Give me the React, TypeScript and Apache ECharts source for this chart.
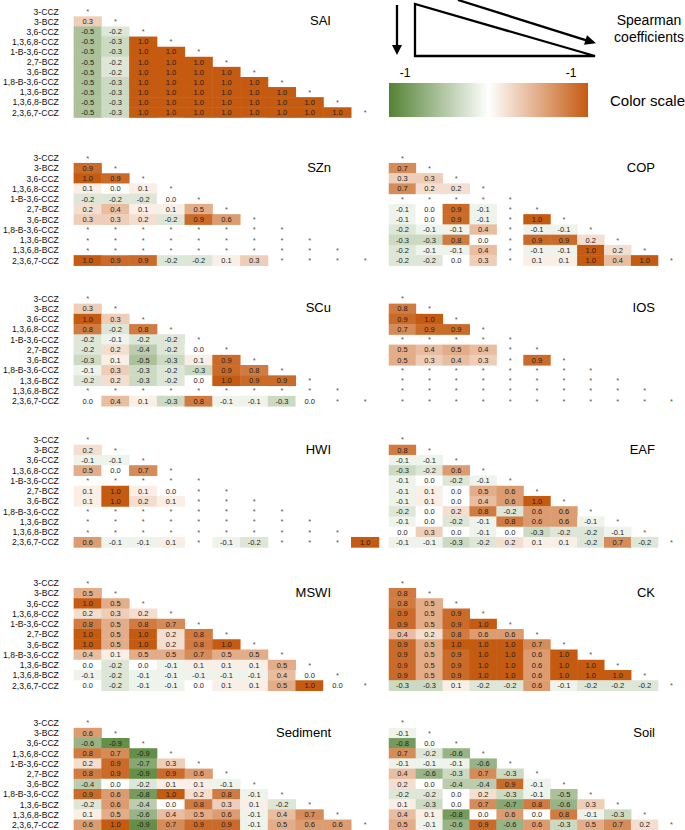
import React, { useEffect, useRef } from 'react';
import * as echarts from 'echarts';

const _ = null;

const categories = ['3-CCZ', '3-BCZ', '3,6-CCZ', '1,3,6,8-CCZ', '1-B-3,6-CCZ', '2,7-BCZ', '3,6-BCZ', '1,8-B-3,6-CCZ', '1,3,6-BCZ', '1,3,6,8-BCZ', '2,3,6,7-CCZ'];

const SAI = [
  [_],
  [0.3, _],
  [-0.5, -0.2, _],
  [-0.5, -0.3, 1.0, _],
  [-0.5, -0.3, 1.0, 1.0, _],
  [-0.5, -0.2, 1.0, 1.0, 1.0, _],
  [-0.5, -0.2, 1.0, 1.0, 1.0, 1.0, _],
  [-0.5, -0.3, 1.0, 1.0, 1.0, 1.0, 1.0, _],
  [-0.5, -0.3, 1.0, 1.0, 1.0, 1.0, 1.0, 1.0, _],
  [-0.5, -0.3, 1.0, 1.0, 1.0, 1.0, 1.0, 1.0, 1.0, _],
  [-0.5, -0.3, 1.0, 1.0, 1.0, 1.0, 1.0, 1.0, 1.0, 1.0, _],
];

const SZn = [
  [_],
  [0.9, _],
  [1.0, 0.9, _],
  [0.1, 0.0, 0.1, _],
  [-0.2, -0.2, -0.2, 0.0, _],
  [0.2, 0.4, 0.1, 0.1, 0.5, _],
  [0.3, 0.3, 0.2, -0.2, 0.9, 0.6, _],
  [_, _, _, _, _, _, _, _],
  [_, _, _, _, _, _, _, _, _],
  [_, _, _, _, _, _, _, _, _, _],
  [1.0, 0.9, 0.9, -0.2, -0.2, 0.1, 0.3, _, _, _, _],
];

const COP = [
  [_],
  [0.7, _],
  [0.3, 0.3, _],
  [0.7, 0.2, 0.2, _],
  [_, _, _, _, _],
  [-0.1, 0.0, 0.9, -0.1, _, _],
  [-0.1, 0.0, 0.9, -0.1, _, 1.0, _],
  [-0.2, -0.1, -0.1, 0.4, _, -0.1, -0.1, _],
  [-0.3, -0.3, 0.8, 0.0, _, 0.9, 0.9, 0.2, _],
  [-0.2, -0.1, -0.1, 0.4, _, -0.1, -0.1, 1.0, 0.2, _],
  [-0.2, -0.2, 0.0, 0.3, _, 0.1, 0.1, 1.0, 0.4, 1.0, _],
];

const SCu = [
  [_],
  [0.3, _],
  [1.0, 0.3, _],
  [0.8, -0.2, 0.8, _],
  [-0.2, -0.1, -0.2, -0.2, _],
  [-0.2, 0.2, -0.4, -0.2, 0.0, _],
  [-0.3, 0.1, -0.5, -0.3, 0.1, 0.9, _],
  [-0.1, 0.3, -0.3, -0.2, -0.3, 0.9, 0.8, _],
  [-0.2, 0.2, -0.3, -0.2, 0.0, 1.0, 0.9, 0.9, _],
  [_, _, _, _, _, _, _, _, _, _],
  [0.0, 0.4, 0.1, -0.3, 0.8, -0.1, -0.1, -0.3, 0.0, _, _],
];

const IOS = [
  [_],
  [0.8, _],
  [0.9, 1.0, _],
  [0.7, 0.9, 0.9, _],
  [_, _, _, _, _],
  [0.5, 0.4, 0.5, 0.4, _, _],
  [0.5, 0.3, 0.4, 0.3, _, 0.9, _],
  [_, _, _, _, _, _, _, _],
  [_, _, _, _, _, _, _, _, _],
  [_, _, _, _, _, _, _, _, _, _],
  [_, _, _, _, _, _, _, _, _, _, _],
];

const HWI = [
  [_],
  [0.2, _],
  [-0.1, -0.1, _],
  [0.5, 0.0, 0.7, _],
  [_, _, _, _, _],
  [0.1, 1.0, 0.1, 0.0, _, _],
  [0.1, 1.0, 0.2, 0.1, _, _, _],
  [_, _, _, _, _, _, _, _],
  [_, _, _, _, _, _, _, _, _],
  [_, _, _, _, _, _, _, _, _, _],
  [0.6, -0.1, -0.1, 0.1, _, -0.1, -0.2, _, _, _, 1.0],
];

const EAF = [
  [_],
  [0.8, _],
  [-0.1, -0.1, _],
  [-0.3, -0.2, 0.6, _],
  [-0.1, 0.0, -0.2, -0.1, _],
  [-0.1, 0.1, 0.0, 0.5, 0.6, _],
  [-0.1, 0.1, 0.0, 0.4, 0.6, 1.0, _],
  [-0.2, 0.0, 0.2, 0.8, -0.2, 0.6, 0.6, _],
  [-0.1, 0.0, -0.2, -0.1, 0.8, 0.6, 0.6, -0.1, _],
  [0.0, 0.3, 0.0, -0.1, 0.0, -0.3, -0.2, -0.2, -0.1, _],
  [-0.1, -0.1, -0.3, -0.2, 0.2, 0.1, 0.1, -0.2, 0.7, -0.2, _],
];

const MSWI = [
  [_],
  [0.5, _],
  [1.0, 0.5, _],
  [0.2, 0.3, 0.2, _],
  [0.8, 0.5, 0.8, 0.7, _],
  [1.0, 0.5, 1.0, 0.2, 0.8, _],
  [1.0, 0.5, 1.0, 0.2, 0.8, 1.0, _],
  [0.4, 0.1, 0.5, 0.5, 0.7, 0.5, 0.5, _],
  [0.0, -0.2, 0.0, -0.1, 0.1, 0.1, 0.1, 0.5, _],
  [-0.1, -0.2, -0.1, -0.1, -0.1, -0.1, -0.1, 0.4, 0.0, _],
  [0.0, -0.2, -0.1, -0.1, 0.0, 0.1, 0.1, 0.5, 1.0, 0.0, _],
];

const CK = [
  [_],
  [0.8, _],
  [0.8, 0.5, _],
  [0.9, 0.5, 0.9, _],
  [0.9, 0.5, 0.9, 1.0, _],
  [0.4, 0.2, 0.8, 0.6, 0.6, _],
  [0.9, 0.5, 1.0, 1.0, 1.0, 0.7, _],
  [0.9, 0.5, 0.9, 1.0, 1.0, 0.6, 1.0, _],
  [0.9, 0.5, 0.9, 1.0, 1.0, 0.6, 1.0, 1.0, _],
  [0.9, 0.5, 0.9, 1.0, 1.0, 0.6, 1.0, 1.0, 1.0, _],
  [-0.3, -0.3, 0.1, -0.2, -0.2, 0.6, -0.1, -0.2, -0.2, -0.2, _],
];

const Sediment = [
  [_],
  [0.6, _],
  [-0.6, -0.9, _],
  [0.8, 0.7, -0.9, _],
  [0.2, 0.9, -0.7, 0.3, _],
  [0.8, 0.9, -0.9, 0.9, 0.6, _],
  [-0.4, 0.0, -0.2, 0.1, 0.1, -0.1, _],
  [0.9, 0.6, -0.8, 1.0, 0.2, 0.8, -0.1, _],
  [-0.2, 0.6, -0.4, 0.0, 0.8, 0.3, 0.1, -0.2, _],
  [0.1, 0.5, -0.6, 0.4, 0.5, 0.6, -0.1, 0.4, 0.7, _],
  [0.6, 1.0, -0.9, 0.7, 0.9, 0.9, -0.1, 0.5, 0.6, 0.6, _],
];

const Soil = [
  [_],
  [-0.1, _],
  [-0.8, 0.0, _],
  [0.7, -0.2, -0.6, _],
  [-0.1, -0.1, -0.1, -0.6, _],
  [0.4, -0.6, -0.3, 0.7, -0.3, _],
  [0.2, 0.0, -0.4, -0.4, 0.9, -0.1, _],
  [-0.2, -0.2, 0.0, 0.2, -0.3, -0.1, -0.5, _],
  [0.1, -0.3, 0.0, 0.7, -0.7, 0.8, -0.6, 0.3, _],
  [0.4, 0.1, -0.8, 0.0, 0.6, 0.0, 0.8, -0.1, -0.3, _],
  [0.5, -0.1, -0.6, 0.9, -0.6, 0.6, -0.3, 0.5, 0.7, 0.2, _],
];

const colorScale = ['#548235', '#ffffff', '#C55A11'];
const legendTicks = ['-1', '-1'];
const legendCaption = ['Spearman', 'coefficients'];
const legendTitle = 'Color scale';

const FONT = '"Liberation Sans", Arial, Helvetica, sans-serif';

// layout: [name, data, side(0 left / 1 right), block]
const panels: [string, (number | null)[][], number, number][] = [
  ['SAI', SAI, 0, 0],
  ['SZn', SZn, 0, 1],
  ['COP', COP, 1, 1],
  ['SCu', SCu, 0, 2],
  ['IOS', IOS, 1, 2],
  ['HWI', HWI, 0, 3],
  ['EAF', EAF, 1, 3],
  ['MSWI', MSWI, 0, 4],
  ['CK', CK, 1, 4],
  ['Sediment', Sediment, 0, 5],
  ['Soil', Soil, 1, 5],
];

const blockTop = [6.5, 152.9, 293.6, 434.7, 578, 717.9];
const blockStep = [10.1, 10.25, 10.25, 10.25, 10.25, 10.3];
const sideLeft = [71, 389];
const cellW = 28;
const titleRight = [331, 655];

export default function App() {
  const ref = useRef<HTMLDivElement>(null);
  useEffect(() => {
    if (!ref.current) return;
    const chart = echarts.init(ref.current, undefined, { renderer: 'svg' });
    const grids: any[] = [];
    const xAxes: any[] = [];
    const yAxes: any[] = [];
    const series: any[] = [];
    const heatIdx: number[] = [];
    const graphics: any[] = [];
    const n = categories.length;

    panels.forEach(([name, rows, side, block], k) => {
      const step = blockStep[block];
      grids.push({
        left: sideLeft[side],
        top: blockTop[block],
        width: cellW * n,
        height: step * n,
        containLabel: false,
      });
      xAxes.push({
        type: 'category',
        gridIndex: k,
        data: categories,
        show: false,
      });
      yAxes.push({
        type: 'category',
        gridIndex: k,
        data: categories,
        inverse: true,
        axisLine: { show: false },
        axisTick: { show: false },
        splitLine: { show: false },
        axisLabel: {
          show: side === 0,
          interval: 0,
          fontSize: 8.6,
          color: '#111',
          fontFamily: FONT,
          margin: 15,
        },
      });
      const heat: any[] = [];
      const stars: any[] = [];
      rows.forEach((row, i) => {
        row.forEach((v, j) => {
          if (v === null) stars.push([j, i]);
          else heat.push([j, i, v]);
        });
      });
      heatIdx.push(series.length);
      series.push({
        type: 'heatmap',
        xAxisIndex: k,
        yAxisIndex: k,
        data: heat,
        label: {
          show: true,
          fontSize: 7.5,
          color: '#222',
          fontFamily: FONT,
          formatter: (p: any) => Number(p.value[2]).toFixed(1),
        },
        emphasis: { disabled: true },
        itemStyle: { borderWidth: 0 },
      });
      series.push({
        type: 'scatter',
        xAxisIndex: k,
        yAxisIndex: k,
        data: stars,
        symbol: 'circle',
        symbolSize: 1,
        itemStyle: { color: 'rgba(0,0,0,0)' },
        label: {
          show: true,
          position: 'inside',
          formatter: '*',
          fontSize: 7.5,
          color: '#222',
          fontFamily: FONT,
        },
        emphasis: { disabled: true },
      });
      graphics.push({
        type: 'text',
        x: titleRight[side],
        y: blockTop[block] + step * 1.5 - 1,
        style: {
          text: name,
          fontSize: 13,
          fontFamily: FONT,
          fill: '#000',
          align: 'right',
          verticalAlign: 'middle',
        },
      });
    });

    // legend drawing (top right)
    const stroke = { stroke: '#000', lineWidth: 2.3, fill: 'none' };
    graphics.push(
      { type: 'line', shape: { x1: 397, y1: 5, x2: 397, y2: 47 }, style: { stroke: '#000', lineWidth: 2.3 } },
      { type: 'polygon', shape: { points: [[392, 45], [402, 45], [397, 55]] }, style: { fill: '#000' } },
      { type: 'polygon', shape: { points: [[415, 4], [415, 56], [595, 56]] }, style: stroke },
      { type: 'line', shape: { x1: 458, y1: 0, x2: 588, y2: 40.8 }, style: { stroke: '#000', lineWidth: 2.3 } },
      { type: 'polygon', shape: { points: [[584, 44.8], [587, 35.2], [596, 43.3]] }, style: { fill: '#000' } },
      { type: 'text', x: 649, y: 20, style: { text: legendCaption[0], fontSize: 14, fontFamily: FONT, fill: '#000', align: 'center', verticalAlign: 'middle' } },
      { type: 'text', x: 649, y: 37, style: { text: legendCaption[1], fontSize: 14, fontFamily: FONT, fill: '#000', align: 'center', verticalAlign: 'middle' } },
      { type: 'text', x: 405, y: 73, style: { text: legendTicks[0], fontSize: 12, fontFamily: FONT, fill: '#000', align: 'center', verticalAlign: 'middle' } },
      { type: 'text', x: 571, y: 73, style: { text: legendTicks[1], fontSize: 12, fontFamily: FONT, fill: '#000', align: 'center', verticalAlign: 'middle' } },
      {
        type: 'rect',
        shape: { x: 389, y: 83, width: 199, height: 34 },
        style: {
          fill: new echarts.graphic.LinearGradient(0, 0, 1, 0, [
            { offset: 0, color: colorScale[0] },
            { offset: 0.5, color: colorScale[1] },
            { offset: 1, color: colorScale[2] },
          ]),
        },
      },
      { type: 'text', x: 685, y: 100, style: { text: legendTitle, fontSize: 15, fontFamily: FONT, fill: '#000', align: 'right', verticalAlign: 'middle' } },
    );

    chart.setOption({
      animation: false,
      backgroundColor: '#fff',
      grid: grids,
      xAxis: xAxes,
      yAxis: yAxes,
      visualMap: {
        type: 'continuous',
        show: false,
        min: -1,
        max: 1,
        dimension: 2,
        seriesIndex: heatIdx,
        inRange: { color: colorScale },
      },
      series,
      graphic: graphics,
    });
    return () => chart.dispose();
  }, []);
  return (
    <div
      ref={ref}
      style={{ position: 'absolute', left: 0, top: 0, width: 685, height: 830 }}
    />
  );
}
